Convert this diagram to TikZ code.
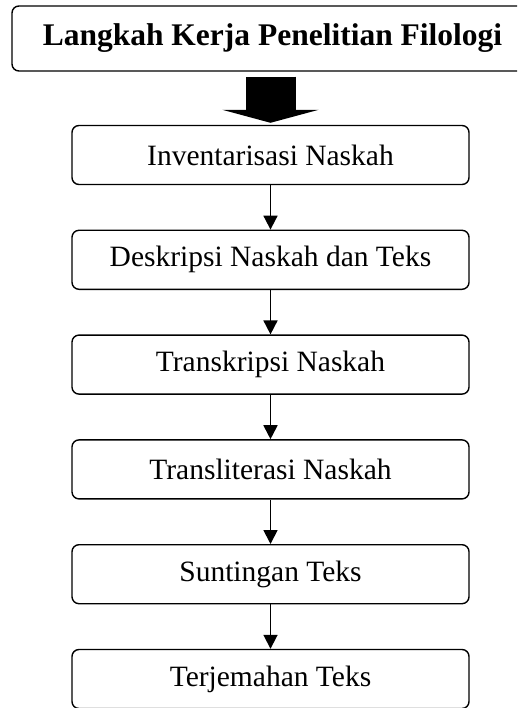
\documentclass[tikz,border=0pt]{standalone}
\usepackage{fontspec}
\setmainfont{Liberation Serif}
\usetikzlibrary{arrows.meta, positioning}

\begin{document}
\begin{tikzpicture}[
        every node/.style={
            draw,
            rounded corners=7pt,
            line width=1.4pt,
            minimum width=397pt,
            minimum height=59pt,
            font=\fontsize{29.5}{34}\selectfont
        },
        stepline/.style={line width=1.8pt, -{Triangle[length=14pt, width=14pt]}},
        bigarrow/.style={line width=50pt, -{Triangle[length=13pt, width=96pt]}, shorten <=5pt, shorten >=2pt}
    ]
        \useasboundingbox (0,0) rectangle (517pt,-708pt);
        \clip (0,0) rectangle (517pt,-708pt);

        % Title node
        \node[minimum width=521pt, minimum height=65pt, font=\fontsize{31.5}{36}\selectfont\bfseries] (title) at (272.5pt,-38.5pt) {Langkah Kerja Penelitian Filologi};

        % First step
        \node (inv) at (270.5pt,-155pt) {Inventarisasi Naskah};
        \draw[bigarrow] (title.south -| inv) -- (inv);

        % Next steps
        \node[below=44.4pt of inv] (desk) {Deskripsi Naskah dan Teks};
        \node[below=44.4pt of desk] (transk) {Transkripsi Naskah};
        \node[below=44.4pt of transk] (translit) {Transliterasi Naskah};
        \node[below=44.4pt of translit] (sunting) {Suntingan Teks};
        \node[below=44.4pt of sunting] (terjemah) {Terjemahan Teks};

        \draw[stepline] (inv) -- (desk);
        \draw[stepline] (desk) -- (transk);
        \draw[stepline] (transk) -- (translit);
        \draw[stepline] (translit) -- (sunting);
        \draw[stepline] (sunting) -- (terjemah);
    \end{tikzpicture}
\end{document}
